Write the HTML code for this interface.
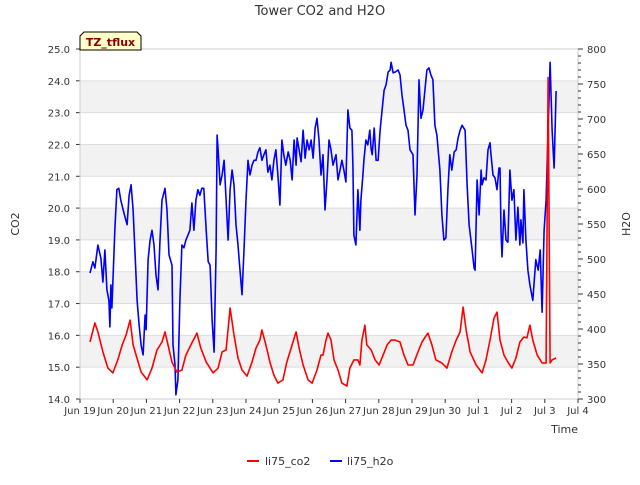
<!DOCTYPE html>
<html><head><meta charset="utf-8"><style>
body{margin:0;background:#fff;font-family:"Liberation Sans","DejaVu Sans",sans-serif;}
svg text{font-family:"DejaVu Sans","Liberation Sans",sans-serif;}
</style></head><body>
<svg id="chart" width="640" height="480" viewBox="0 0 640 480" xmlns="http://www.w3.org/2000/svg">
<text x="320" y="15" text-anchor="middle" font-size="13" fill="#333">Tower CO2 and H2O</text>
<g id="bands"></g>
<g id="grid"></g>
<g id="axes"></g>
<g id="series"></g>
<text transform="translate(19,224) rotate(-90)" text-anchor="middle" font-size="11" fill="#333">CO2</text>
<text transform="translate(630,224) rotate(-90)" text-anchor="middle" font-size="11" fill="#333">H2O</text>
<text x="578" y="433" text-anchor="end" font-size="11" fill="#333">Time</text>
<g>
<path d="M80,50 L80,36 L84,32 L137,32 L141,36 L141,50 Z" fill="#ffffc8" stroke="#000" stroke-width="1"/>
<text x="110.5" y="46" text-anchor="middle" font-size="11" font-weight="bold" fill="#8b0000">TZ_tflux</text>
</g>
<g>
<line x1="247" y1="461" x2="259" y2="461" stroke="#f00" stroke-width="2"/>
<text x="265" y="465" font-size="11" fill="#333">li75_co2</text>
<line x1="330" y1="461" x2="342" y2="461" stroke="#00f" stroke-width="2"/>
<text x="347" y="465" font-size="11" fill="#333">li75_h2o</text>
</g>
</svg>
<script>
const xTickLabels=["Jun 19","Jun 20","Jun 21","Jun 22","Jun 23","Jun 24","Jun 25","Jun 26","Jun 27","Jun 28","Jun 29","Jun 30","Jul 1","Jul 2","Jul 3","Jul 4"];
const co2Ticks=[14,15,16,17,18,19,20,21,22,23,24,25];
const h2oTicks=[300,350,400,450,500,550,600,650,700,750,800];
const co2Times=[0.30,0.45,0.54,0.69,0.84,0.99,1.14,1.27,1.39,1.51,1.60,1.69,1.84,2.02,2.17,2.32,2.47,2.56,2.65,2.77,2.92,3.07,3.19,3.34,3.52,3.64,3.80,4.01,4.16,4.28,4.40,4.52,4.64,4.76,4.88,5.03,5.18,5.30,5.42,5.48,5.60,5.72,5.84,5.96,6.11,6.23,6.39,6.51,6.60,6.72,6.87,6.99,7.14,7.26,7.32,7.41,7.47,7.56,7.65,7.77,7.89,8.04,8.13,8.25,8.37,8.43,8.49,8.58,8.64,8.77,8.89,9.01,9.13,9.25,9.37,9.49,9.64,9.76,9.88,10.03,10.18,10.30,10.48,10.60,10.72,10.90,11.05,11.20,11.33,11.45,11.54,11.63,11.75,11.93,12.11,12.23,12.35,12.47,12.56,12.65,12.77,12.89,13.01,13.13,13.25,13.37,13.46,13.55,13.64,13.77,13.92,14.04,14.10,14.16,14.22,14.34];
const co2Values=[15.79,16.39,16.11,15.48,14.97,14.82,15.23,15.70,16.01,16.48,15.70,15.38,14.85,14.60,14.97,15.54,15.79,16.11,15.70,15.16,14.85,14.91,15.38,15.70,16.07,15.60,15.16,14.82,14.97,15.48,15.54,16.86,16.01,15.29,14.91,14.72,15.16,15.60,15.85,16.17,15.70,15.16,14.75,14.50,14.60,15.16,15.70,16.11,15.60,15.07,14.60,14.50,14.91,15.38,15.38,15.85,16.07,15.85,15.23,14.91,14.50,14.41,14.97,15.23,15.23,15.07,15.85,16.32,15.70,15.54,15.23,15.07,15.38,15.70,15.85,15.85,15.79,15.38,15.07,15.07,15.48,15.79,16.07,15.70,15.23,15.13,14.97,15.48,15.85,16.11,16.89,16.17,15.48,15.07,14.82,15.23,15.85,16.54,16.73,15.85,15.38,15.16,14.97,15.29,15.79,15.95,15.92,16.32,15.85,15.38,15.13,15.13,24.10,15.13,15.23,15.29];
const h2oTimes=[0.30,0.39,0.45,0.54,0.63,0.69,0.75,0.81,0.87,0.90,0.93,0.96,1.05,1.11,1.17,1.23,1.30,1.36,1.42,1.48,1.54,1.60,1.66,1.72,1.78,1.84,1.90,1.96,1.99,2.05,2.11,2.17,2.23,2.29,2.35,2.41,2.47,2.56,2.62,2.68,2.77,2.80,2.86,2.89,2.95,3.01,3.07,3.13,3.19,3.25,3.31,3.37,3.43,3.49,3.55,3.61,3.67,3.73,3.80,3.86,3.92,3.98,4.04,4.10,4.13,4.16,4.22,4.28,4.34,4.40,4.46,4.52,4.58,4.64,4.70,4.76,4.82,4.88,4.94,5.00,5.06,5.12,5.18,5.24,5.30,5.36,5.42,5.48,5.54,5.60,5.66,5.72,5.78,5.84,5.90,5.96,6.02,6.08,6.14,6.20,6.27,6.33,6.39,6.45,6.51,6.54,6.60,6.66,6.72,6.78,6.84,6.90,6.96,7.02,7.08,7.14,7.20,7.26,7.32,7.38,7.44,7.50,7.56,7.62,7.71,7.77,7.83,7.89,7.95,8.01,8.07,8.13,8.19,8.22,8.25,8.31,8.37,8.43,8.46,8.52,8.55,8.61,8.67,8.73,8.77,8.80,8.86,8.92,8.98,9.04,9.10,9.16,9.22,9.28,9.34,9.37,9.43,9.49,9.58,9.64,9.70,9.76,9.82,9.88,9.94,10.03,10.09,10.15,10.21,10.27,10.33,10.39,10.45,10.51,10.57,10.63,10.69,10.75,10.84,10.90,10.96,11.02,11.08,11.14,11.20,11.27,11.33,11.39,11.45,11.51,11.60,11.66,11.72,11.81,11.87,11.90,11.96,12.02,12.08,12.11,12.17,12.23,12.29,12.35,12.38,12.44,12.50,12.56,12.62,12.65,12.68,12.71,12.77,12.83,12.89,12.95,13.01,13.07,13.13,13.19,13.25,13.28,13.34,13.37,13.43,13.49,13.55,13.64,13.73,13.80,13.86,13.92,13.98,14.04,14.10,14.16,14.22,14.28,14.34];
const h2oValues=[480,496,487,520,501,467,513,456,441,403,463,430,544,599,601,584,570,559,549,591,606,570,506,441,406,377,363,420,399,499,527,541,520,477,456,527,584,601,570,506,491,377,349,306,327,441,520,516,527,534,541,580,541,584,599,591,601,601,541,496,491,413,367,513,677,656,606,620,641,584,527,599,627,606,549,520,484,449,513,584,641,620,634,641,641,653,659,641,649,656,624,634,613,641,656,620,577,670,649,634,653,641,613,670,634,673,656,639,684,644,670,656,670,644,687,701,670,620,649,570,613,670,656,634,649,613,627,641,627,610,713,687,684,634,534,520,599,541,584,620,641,670,663,684,656,649,687,641,641,684,713,741,749,767,770,781,766,767,770,763,734,713,691,684,656,649,563,620,756,701,713,741,770,773,763,756,691,677,627,563,527,530,599,649,627,653,656,673,684,691,684,606,549,513,487,484,613,563,627,606,616,613,656,666,649,620,616,599,630,630,541,503,570,527,524,627,584,599,527,574,520,556,523,599,527,484,463,441,499,484,513,424,541,584,684,781,684,630,740];

const L=80,R=578,T=49,B=399,NS='http://www.w3.org/2000/svg';
const xS=d=>L+(R-L)*d/15;
const yC=v=>B-(B-T)*(v-14)/11;
const yH=v=>B-(B-T)*(v-300)/500;
function mk(tag,attrs,parent){const e=document.createElementNS(NS,tag);for(const k in attrs)e.setAttribute(k,attrs[k]);parent.appendChild(e);return e;}
const bands=document.getElementById('bands'),grid=document.getElementById('grid'),axes=document.getElementById('axes'),series=document.getElementById('series');
for(const v of co2Ticks){
  if(v<25&&v%2===1){const r=mk('rect',{x:L,y:yC(v+1),width:R-L,height:yC(v)-yC(v+1),fill:'#f2f2f2'},bands);
  
  }
  const g=mk('line',{x1:L,x2:R,y1:yC(v),y2:yC(v),stroke:'#ddd','stroke-width':1},grid);
  
  
  const t=mk('text',{x:L-10,y:yC(v)+4,'text-anchor':'end','font-size':10,fill:'#333'},axes);
  t.textContent=v.toFixed(1);
  
  
  mk('line',{x1:L-4,x2:L,y1:yC(v),y2:yC(v),stroke:'#333'},axes);
}
mk('rect',{x:L,y:T,width:R-L,height:B-T,fill:'none',stroke:'#ccc'},axes);
for(let v=300;v<=800;v+=10){const big=v%50===0;mk('line',{x1:R,x2:R+(big?5:3),y1:yH(v),y2:yH(v),stroke:'#333'},axes);}
for(const v of h2oTicks){const t=mk('text',{x:R+9,y:yH(v)+4,'font-size':10,fill:'#333'},axes);t.textContent=v;
  
  }
xTickLabels.forEach((s,i)=>{mk('line',{x1:xS(i),x2:xS(i),y1:B,y2:B+4,stroke:'#333'},axes);
  const t=mk('text',{x:xS(i),y:B+15,'text-anchor':'middle','font-size':10,fill:'#333'},axes);t.textContent=s;
  
  });
const ph=mk('polyline',{points:h2oTimes.map((d,i)=>xS(d).toFixed(1)+','+yH(h2oValues[i]).toFixed(1)).join(' '),fill:'none',stroke:'#00f','stroke-width':1.6,'stroke-linejoin':'round'},series);


const pc=mk('polyline',{points:co2Times.map((d,i)=>xS(d).toFixed(1)+','+yC(co2Values[i]).toFixed(1)).join(' '),fill:'none',stroke:'#f00','stroke-width':1.6,'stroke-linejoin':'round'},series);


</script>
</body></html>
